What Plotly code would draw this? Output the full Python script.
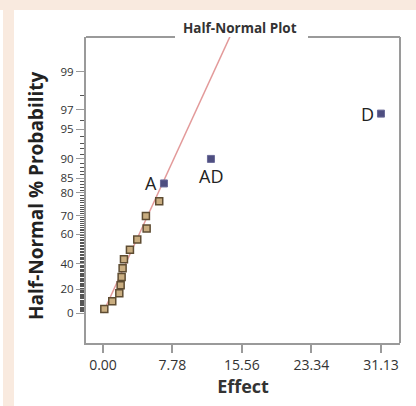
import plotly.graph_objects as go
from statistics import NormalDist

# ---- data ----
effects = [0.15, 1.04, 1.83, 1.98, 2.09, 2.20, 2.35, 3.02, 3.84, 4.89, 4.81, 6.30, 6.83, 12.09, 31.13]
probs = [3.33, 10.0, 16.67, 23.33, 30.0, 36.67, 43.33, 50.0, 56.67, 63.33, 70.0, 76.67, 83.33, 90.0, 96.67]
labels = ["", "", "", "", "", "", "", "", "", "", "", "", "A", "AD", "D"]
selected = [False] * 12 + [True, True, True]

ytick_probs = [0, 20, 40, 60, 70, 80, 85, 90, 95, 97, 99]
xtick_vals = [0.00, 7.78, 15.56, 23.34, 31.13]
xtick_text = ["0.00", "7.78", "15.56", "23.34", "31.13"]

line_effect = [0.0, 16.0]
line_slope = 1 / 4.82  # z per unit effect

nd = NormalDist()
def hz(p):
    """half-normal probability scale"""
    return nd.inv_cdf((1 + p / 100.0) / 2)

fig = go.Figure()

# fitted line
fig.add_trace(go.Scatter(
    x=line_effect, y=[e * line_slope for e in line_effect],
    mode="lines", line=dict(color="#e39a9a", width=1.5), hoverinfo="skip"))

# points
tan_x = [e for e, s in zip(effects, selected) if not s]
tan_y = [hz(p) for p, s in zip(probs, selected) if not s]
sel_x = [e for e, s in zip(effects, selected) if s]
sel_y = [hz(p) for p, s in zip(probs, selected) if s]
fig.add_trace(go.Scatter(
    x=tan_x, y=tan_y, mode="markers",
    marker=dict(symbol="square", size=7, color="#c9ad80",
                line=dict(color="#5e4c32", width=1.5))))
fig.add_trace(go.Scatter(
    x=sel_x, y=sel_y, mode="markers",
    marker=dict(symbol="square", size=7, color="#4e4e80",
                line=dict(color="#6a6a98", width=1))))

font = "Open Sans, Noto Sans, sans-serif"

# labels
for e, p, lab in zip(effects, probs, labels):
    if not lab:
        continue
    if lab == "AD":
        fig.add_annotation(x=e, y=hz(p), text=lab, showarrow=False,
                           xanchor="center", yanchor="top", yshift=-3,
                           font=dict(family=font, size=18, color="#222"))
    else:
        fig.add_annotation(x=e, y=hz(p), text=lab, showarrow=False,
                           xanchor="right", yanchor="middle", xshift=-5,
                           font=dict(family=font, size=18, color="#222"))

# title
fig.add_annotation(x=(239.5 - 86) / 314, y=1.0, xref="paper", yref="paper", text="<b>Half-Normal Plot</b>",
                   showarrow=False, xanchor="center", yanchor="middle", yshift=9,
                   font=dict(family=font, size=13.5, color="#333"))

# y-axis title
fig.add_annotation(x=(36 - 86) / 314, y=(343 - 196) / 306, xref="paper", yref="paper",
                   text="<b>Half-Normal % Probability</b>", textangle=-90, showarrow=False,
                   xanchor="center", yanchor="middle",
                   font=dict(family=font, size=19, color="#222"))

frame = "#9a9a9a"
peach = "#f9eadf"
shapes = [
    # background strips
    dict(type="rect", xref="paper", yref="paper", x0=-83/314, x1=-72/314, y0=-63/306, y1=1+37/306,
         fillcolor=peach, line_width=0, layer="below"),
    dict(type="rect", xref="paper", yref="paper", x0=-86/314, x1=1+16/314, y0=1+27/306, y1=1+37/306,
         fillcolor=peach, line_width=0, layer="above"),
    # frame
    dict(type="line", xref="paper", yref="paper", x0=1, x1=1, y0=0, y1=1, line=dict(color=frame, width=2)),
    dict(type="line", xref="paper", yref="paper", x0=0, x1=(175-86)/314, y0=1, y1=1, line=dict(color=frame, width=2)),
    dict(type="line", xref="paper", yref="paper", x0=(308-86)/314, x1=1, y0=1, y1=1, line=dict(color=frame, width=2)),
]

minor_vals = [hz(p) for p in range(1, 99) if p not in ytick_probs]

fig.update_layout(
    width=416, height=406,
    margin=dict(l=86, r=16, t=37, b=63),
    paper_bgcolor="white", plot_bgcolor="white",
    showlegend=False, shapes=shapes,
    font=dict(family=font, color="#333"),
    xaxis=dict(range=[-1.9, 33.26], tickmode="array", tickvals=xtick_vals, ticktext=xtick_text,
               showgrid=False, zeroline=False, showline=True, linecolor=frame, linewidth=2,
               ticks="outside", ticklen=8, tickcolor=frame, tickwidth=2,
               tickfont=dict(family=font, size=14, color="#333"),
               title=dict(text="<b>Effect</b>", font=dict(family=font, size=18, color="#333"), standoff=7)),
    yaxis=dict(range=[-0.32, 2.946], tickmode="array", tickvals=[hz(p) for p in ytick_probs],
               ticktext=[str(p) for p in ytick_probs],
               showgrid=False, zeroline=False, showline=True, linecolor=frame, linewidth=2,
               ticks="outside", ticklen=8, tickcolor=frame, tickwidth=1,
               tickfont=dict(family=font, size=11.5, color="#333"),
               minor=dict(tickmode="array", tickvals=minor_vals, ticks="outside", ticklen=4,
                          tickcolor="#555", tickwidth=1)),
)

fig.write_html("out.html", config={"displayModeBar": False},
               post_script="document.body.style.margin='0';")
